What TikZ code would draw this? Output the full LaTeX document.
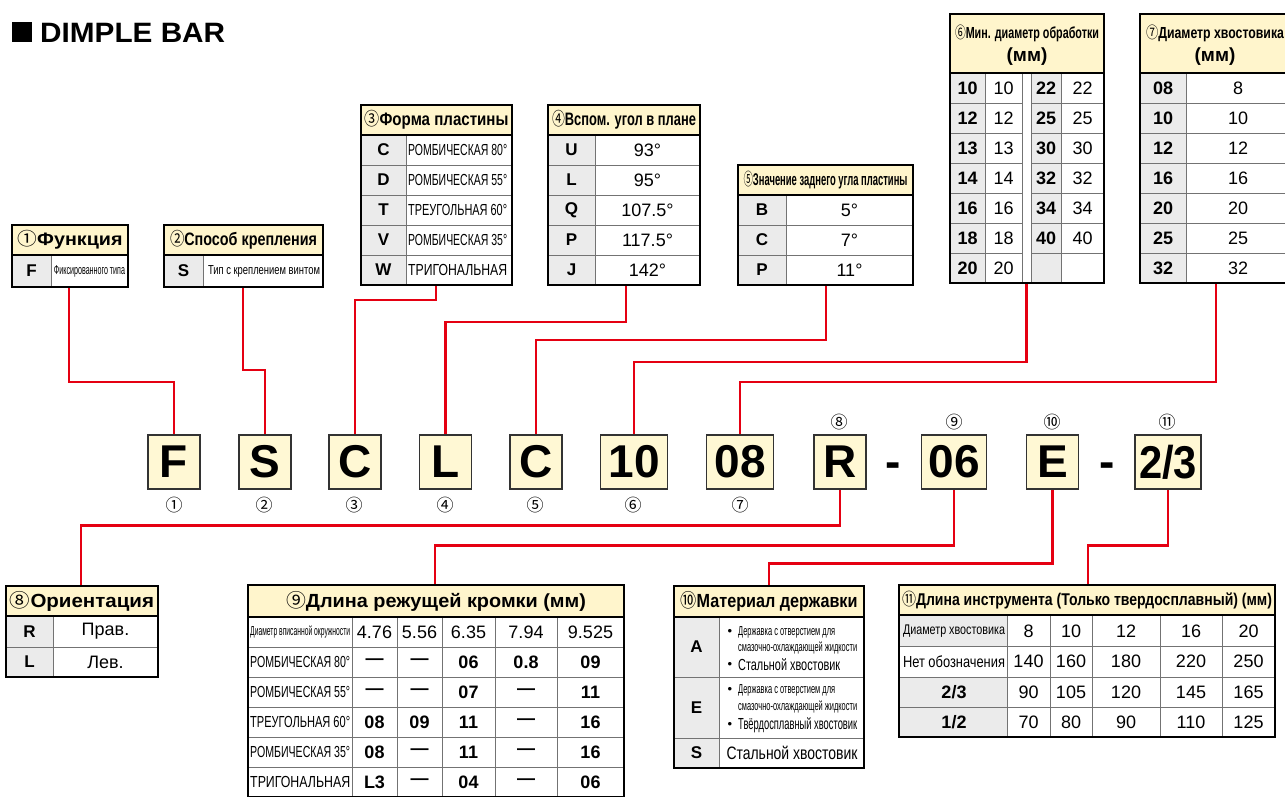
\documentclass[tikz,border=0pt]{standalone}
\usepackage{fontspec}
\usepackage{graphicx}
\setmainfont{Liberation Sans}
\newfontfamily\circfont{Noto Sans CJK JP}
\newcommand{\fitx}[2]{\resizebox{#1}{\height}{#2}}
\newcommand{\circno}[1]{{\circfont\mdseries #1}}
\definecolor{headyellow}{HTML}{FFF5CC}
\definecolor{boxyellow}{HTML}{FFF8D4}
\definecolor{keygray}{HTML}{EBEBEB}
\definecolor{linkred}{HTML}{E50012}

\begin{document}
\begin{tikzpicture}[x=1pt,y=-1pt,
    tabframe/.style={draw=black,line width=1.8pt},
    tabrule/.style={draw=black!55,line width=0.9pt},
    headtxt/.style={inner sep=0pt,font=\bfseries\fontsize{18}{20}\selectfont},
    keytxt/.style={inner sep=0pt,font=\bfseries\fontsize{17}{19}\selectfont},
    valtxt/.style={inner sep=0pt,font=\fontsize{18}{20}\selectfont},
    valbold/.style={inner sep=0pt,font=\bfseries\fontsize{18}{20}\selectfont},
    shapetxt/.style={inner sep=0pt,font=\fontsize{16}{18}\selectfont},
    finetxt/.style={inner sep=0pt,font=\fontsize{13}{14}\selectfont},
    codebox/.style={draw=black!80,line width=1.5pt,fill=boxyellow,
        minimum width=52pt,minimum height=54pt,inner sep=0pt,
        font=\bfseries\fontsize{46}{46}\selectfont},
    dashtxt/.style={inner sep=0pt,font=\bfseries\fontsize{46}{46}\selectfont},
    circnum/.style={inner sep=0pt,font=\circfont\fontsize{17}{17}\selectfont},
    link/.style={draw=linkred,line width=2.8pt}
]
    \clip (0,0) rectangle (1285,796);
    \fill (12,22) rectangle (32,42);
    \node[anchor=west,inner sep=0pt,font=\bfseries\fontsize{28}{30}\selectfont]
        (title) at (40,32.5) {\fitx{185pt}{DIMPLE BAR}};

    \node[codebox] (bF) at (174,462) {F};
    \node[codebox] (bS) at (265,462) {S};
    \node[codebox] (bC) at (355,462) {C};
    \node[codebox] (bL) at (445.5,462) {L};
    \node[codebox] (bC2) at (536,462) {C};
    \node[codebox,minimum width=67pt] (b10) at (634,462) {10};
    \node[codebox,minimum width=67pt] (b08) at (740,462) {08};
    \node[codebox] (bR) at (840,462) {R};
    \node[dashtxt] (dash1) at (893.5,470) {-};
    \node[codebox,minimum width=65pt] (b06) at (954,462) {06};
    \node[codebox] (bE) at (1052.5,462) {E};
    \node[dashtxt] (dash2) at (1107,470) {-};
    \node[codebox,minimum width=66pt] (b23) at (1168,462) {\fitx{58pt}{2/3}};
    \foreach \n/\x [count=\i] in {①/174,②/264,③/354,④/445,⑤/535,⑥/633,⑦/740}
        \node[circnum] (lo\i) at (\x,505) {\n};
    \foreach \n/\x [count=\i] in {⑧/839,⑨/954,⑩/1052,⑪/1167}
        \node[circnum] (up\i) at (\x,422) {\n};

    \coordinate (t1foot) at (69,287);
    \coordinate (t2foot) at (243,287);
    \coordinate (t3foot) at (436,285);
    \coordinate (t4foot) at (626,285);
    \coordinate (t5foot) at (826,285);
    \coordinate (t6foot) at (1026.5,283);
    \coordinate (t7foot) at (1216,283);
    \coordinate (t8top) at (81,586);
    \coordinate (t9top) at (435,585);
    \coordinate (t10top) at (769,586);
    \coordinate (t11top) at (1088,585);
    \draw[link] (t1foot) -- ++(0,95) -| (bF.north);
    \draw[link] (t2foot) -- ++(0,83) -| (bS.north);
    \draw[link] (t3foot) -- ++(0,15) -| (bC.north);
    \draw[link] (t4foot) -- ++(0,37) -| (bL.north);
    \draw[link] (t5foot) -- ++(0,55) -| (bC2.north);
    \draw[link] (t6foot) -- ++(0,79) -| (b10.north);
    \draw[link] (t7foot) -- ++(0,99) -| (b08.north);
    \draw[link] (bR.south) -- ++(0,36) -| (t8top);
    \draw[link] (b06.south) -- ++(0,56) -| (t9top);
    \draw[link] (bE.south) -- ++(0,74) -| (t10top);
    \draw[link] (b23.south) -- ++(0,56) -| (t11top);

    \fill[headyellow] (12,225) rectangle (128,255);
    \fill[keygray] (12,255) rectangle (51,287);
    \draw[tabrule] (51,255) -- (51,287);
    \draw[tabframe] (12,225) rectangle (128,287) (12,255) -- (128,255);
    \node[headtxt] (t1h) at (70,240) {\fitx{105pt}{\circno{①}Функция}};
    \node[keytxt] (t1k) at (31.5,271) {F};
    \node[finetxt] (t1v) at (89.5,271) {\fitx{71pt}{Фиксированного типа}};

    \fill[headyellow] (164,225) rectangle (323,255);
    \fill[keygray] (164,255) rectangle (203,287);
    \draw[tabrule] (203,255) -- (203,287);
    \draw[tabframe] (164,225) rectangle (323,287) (164,255) -- (323,255);
    \node[headtxt] (t2h) at (243.5,240) {\fitx{147pt}{\circno{②}Способ крепления}};
    \node[keytxt] (t2k) at (183.5,271) {S};
    \node[finetxt] (t2v) at (264,271) {\fitx{112pt}{Тип с креплением винтом}};

    \fill[headyellow] (361,105) rectangle (512,135);
    \fill[keygray] (361,135) rectangle (406,285);
    \draw[tabrule] (406,135) -- (406,285);
    \foreach \y in {165,195,225,255} \draw[tabrule] (361,\y) -- (512,\y);
    \draw[tabframe] (361,105) rectangle (512,285) (361,135) -- (512,135);
    \node[headtxt] (t3h) at (436.5,120) {\fitx{144pt}{\circno{③}Форма пластины}};
    \foreach \k/\v [count=\i] in {C/РОМБИЧЕСКАЯ 80°,D/РОМБИЧЕСКАЯ 55°,
            T/ТРЕУГОЛЬНАЯ 60°,V/РОМБИЧЕСКАЯ 35°,W/ТРИГОНАЛЬНАЯ}{
        \node[keytxt] (t3k\i) at (383.5,120+30*\i) {\k};
        \node[shapetxt,anchor=west] (t3v\i) at (408,120+30*\i) {\fitx{99pt}{\v}};
    }

    \fill[headyellow] (548,105) rectangle (700,135);
    \fill[keygray] (548,135) rectangle (595,285);
    \draw[tabrule] (595,135) -- (595,285);
    \foreach \y in {165,195,225,255} \draw[tabrule] (548,\y) -- (700,\y);
    \draw[tabframe] (548,105) rectangle (700,285) (548,135) -- (700,135);
    \node[headtxt] (t4h) at (624,120) {\fitx{144pt}{\circno{④}Вспом. угол в плане}};
    \foreach \k/\v [count=\i] in {U/93°,L/95°,Q/107.5°,P/117.5°,J/142°}{
        \node[keytxt] (t4k\i) at (571.5,120+30*\i) {\k};
        \node[valtxt] (t4v\i) at (647.5,120+30*\i) {\v};
    }

    \fill[headyellow] (738,165) rectangle (913,195);
    \fill[keygray] (738,195) rectangle (786,285);
    \draw[tabrule] (786,195) -- (786,285);
    \foreach \y in {225,255} \draw[tabrule] (738,\y) -- (913,\y);
    \draw[tabframe] (738,165) rectangle (913,285) (738,195) -- (913,195);
    \node[headtxt,font=\bfseries\fontsize{17}{19}\selectfont] (t5h) at (825.5,180)
        {\fitx{164pt}{\circno{⑤}Значение заднего угла пластины}};
    \foreach \k/\v [count=\i] in {B/5°,C/7°,P/11°}{
        \node[keytxt] (t5k\i) at (762,180+30*\i) {\k};
        \node[valtxt] (t5v\i) at (849.5,180+30*\i) {\v};
    }

    \fill[headyellow] (950,14) rectangle (1104,73);
    \fill[keygray] (950,73) rectangle (985,283) (1031,73) rectangle (1061,283);
    \foreach \x in {985,1022,1031,1061} \draw[tabrule] (\x,73) -- (\x,283);
    \foreach \y in {103,133,...,253} \draw[tabrule] (950,\y) -- (1022,\y) (1031,\y) -- (1104,\y);
    \draw[tabframe] (950,14) rectangle (1104,283) (950,73) -- (1104,73);
    \node[headtxt,font=\bfseries\fontsize{16}{18}\selectfont] (t6h) at (1027,33)
        {\fitx{144pt}{\circno{⑥}Мин. диаметр обработки}};
    \node[headtxt,font=\bfseries\fontsize{19}{21}\selectfont] (t6u) at (1027,57) {(мм)};
    \foreach \a/\b [count=\i] in {10/22,12/25,13/30,14/32,16/34,18/40,20/}{
        \node[valbold] (t6k\i) at (967.5,58+30*\i) {\a};
        \node[valtxt] (t6v\i) at (1003.5,58+30*\i) {\a};
        \node[valbold] (t6l\i) at (1046,58+30*\i) {\b};
        \node[valtxt] (t6w\i) at (1082.5,58+30*\i) {\b};
    }

    \fill[headyellow] (1140,14) rectangle (1290,73);
    \fill[keygray] (1140,73) rectangle (1186,283);
    \draw[tabrule] (1186,73) -- (1186,283);
    \foreach \y in {103,133,...,253} \draw[tabrule] (1140,\y) -- (1290,\y);
    \draw[tabframe] (1140,14) rectangle (1290,283) (1140,73) -- (1290,73);
    \node[headtxt,font=\bfseries\fontsize{16}{18}\selectfont] (t7h) at (1215,33)
        {\fitx{138pt}{\circno{⑦}Диаметр хвостовика}};
    \node[headtxt,font=\bfseries\fontsize{19}{21}\selectfont] (t7u) at (1215,57) {(мм)};
    \foreach \k/\v [count=\i] in {08/8,10/10,12/12,16/16,20/20,25/25,32/32}{
        \node[valbold] (t7k\i) at (1163,58+30*\i) {\k};
        \node[valtxt] (t7v\i) at (1238,58+30*\i) {\v};
    }

    \fill[headyellow] (6,586) rectangle (158,616);
    \fill[keygray] (6,616) rectangle (53,677);
    \draw[tabrule] (53,616) -- (53,677) (6,647) -- (158,647);
    \draw[tabframe] (6,586) rectangle (158,677) (6,616) -- (158,616);
    \node[headtxt,font=\bfseries\fontsize{19}{21}\selectfont] (t8h) at (82,601)
        {\fitx{144pt}{\circno{⑧}Ориентация}};
    \node[keytxt] (t8k1) at (29.5,631.5) {R};
    \node[valtxt] (t8v1) at (105.5,631.5) {Прав.};
    \node[keytxt] (t8k2) at (29.5,662) {L};
    \node[valtxt] (t8v2) at (105.5,662) {Лев.};

    \fill[headyellow] (248,585) rectangle (624,617);
    \foreach \x in {352,397,442,495,557} \draw[tabrule] (\x,617) -- (\x,797);
    \foreach \y in {647,677,...,767} \draw[tabrule] (248,\y) -- (624,\y);
    \draw[tabframe] (248,585) rectangle (624,797) (248,617) -- (624,617);
    \node[headtxt,font=\bfseries\fontsize{19}{21}\selectfont] (t9h) at (436,601)
        {\fitx{300pt}{\circno{⑨}Длина режущей кромки (мм)}};
    \node[finetxt,anchor=west] (t9r0) at (250,632) {\fitx{100pt}{Диаметр вписанной окружности}};
    \foreach \x/\d [count=\j] in {374.5/4.76,419.5/5.56,468.5/6.35,526/7.94,590.5/9.525}
        \node[valtxt] (t9d\j) at (\x,632) {\d};
    \foreach \s/\a/\b/\c/\d/\e [count=\i] in {РОМБИЧЕСКАЯ 80°/—/—/06/0.8/09,
            РОМБИЧЕСКАЯ 55°/—/—/07/—/11,ТРЕУГОЛЬНАЯ 60°/08/09/11/—/16,
            РОМБИЧЕСКАЯ 35°/08/—/11/—/16,ТРИГОНАЛЬНАЯ/L3/—/04/—/06}{
        \node[shapetxt,anchor=west] (t9r\i) at (250,632+30*\i) {\fitx{100pt}{\s}};
        \node[valbold] (t9a\i) at (374.5,632+30*\i) {\a};
        \node[valbold] (t9b\i) at (419.5,632+30*\i) {\b};
        \node[valbold] (t9c\i) at (468.5,632+30*\i) {\c};
        \node[valbold] (t9e\i) at (526,632+30*\i) {\d};
        \node[valbold] (t9f\i) at (590.5,632+30*\i) {\e};
    }

    \fill[headyellow] (674,586) rectangle (864,617);
    \fill[keygray] (674,617) rectangle (719,768);
    \draw[tabrule] (719,617) -- (719,768) (674,677) -- (864,677) (674,738) -- (864,738);
    \draw[tabframe] (674,586) rectangle (864,768) (674,617) -- (864,617);
    \node[headtxt,font=\bfseries\fontsize{19}{21}\selectfont] (t10h) at (769,601)
        {\fitx{177pt}{\circno{⑩}Материал державки}};
    \node[keytxt] (t10k1) at (696.5,647) {A};
    \node[keytxt] (t10k2) at (696.5,707.5) {E};
    \node[keytxt] (t10k3) at (696.5,753) {S};
    \node[finetxt] (t10p1) at (730,632) {•};
    \node[finetxt,anchor=west] (t10a1) at (738,632) {\fitx{97pt}{Державка с отверстием для}};
    \node[finetxt,anchor=west] (t10a2) at (738,648) {\fitx{119pt}{смазочно-охлаждающей жидкости}};
    \node[finetxt] (t10p2) at (730,665) {•};
    \node[shapetxt,anchor=west] (t10a3) at (738,665) {\fitx{102pt}{Стальной хвостовик}};
    \node[finetxt] (t10p3) at (730,690) {•};
    \node[finetxt,anchor=west] (t10e1) at (738,690) {\fitx{97pt}{Державка с отверстием для}};
    \node[finetxt,anchor=west] (t10e2) at (738,707) {\fitx{119pt}{смазочно-охлаждающей жидкости}};
    \node[finetxt] (t10p4) at (730,725) {•};
    \node[shapetxt,anchor=west] (t10e3) at (738,725) {\fitx{119pt}{Твёрдосплавный хвостовик}};
    \node[valtxt] (t10s) at (792,753) {\fitx{131pt}{Стальной хвостовик}};

    \fill[headyellow] (899,585) rectangle (1275,615);
    \fill[keygray] (899,615) rectangle (1007,646) (899,677) rectangle (1007,737);
    \foreach \x in {1007,1050,1092,1160,1222} \draw[tabrule] (\x,615) -- (\x,737);
    \foreach \y in {646,677,707} \draw[tabrule] (899,\y) -- (1275,\y);
    \draw[tabframe] (899,585) rectangle (1275,737) (899,615) -- (1275,615);
    \node[headtxt,font=\bfseries\fontsize{17}{19}\selectfont] (t11h) at (1087,600)
        {\fitx{370pt}{\circno{⑪}Длина инструмента (Только твердосплавный) (мм)}};
    \node[finetxt,font=\fontsize{14}{16}\selectfont] (t11r1) at (954,631) {\fitx{102pt}{Диаметр хвостовика}};
    \node[shapetxt] (t11r2) at (954,661.5) {\fitx{102pt}{Нет обозначения}};
    \node[valbold] (t11r3) at (954,692) {2/3};
    \node[valbold] (t11r4) at (954,722) {1/2};
    \foreach \x/\a/\b/\c/\d [count=\j] in {1028.5/8/140/90/70,1071/10/160/105/80,
            1126/12/180/120/90,1191/16/220/145/110,1248.5/20/250/165/125}{
        \node[valtxt] (t11a\j) at (\x,631) {\a};
        \node[valtxt] (t11b\j) at (\x,661.5) {\b};
        \node[valtxt] (t11c\j) at (\x,692) {\c};
        \node[valtxt] (t11d\j) at (\x,722) {\d};
    }
\end{tikzpicture}
\end{document}
